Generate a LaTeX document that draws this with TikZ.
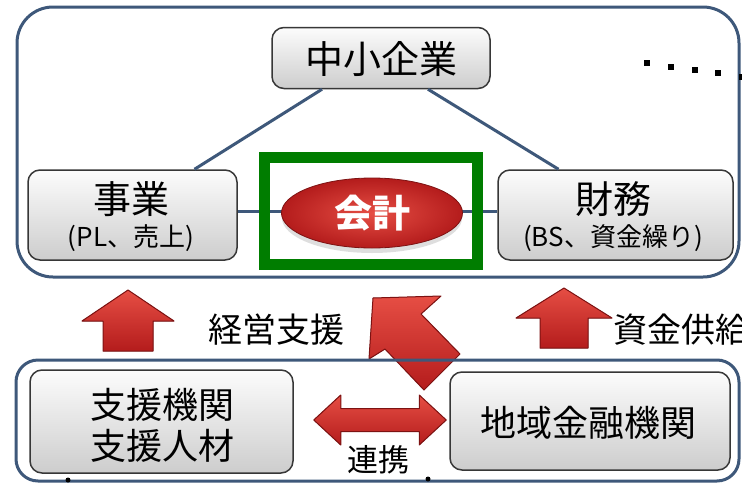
\documentclass[tikz,border=0pt]{standalone}
\usepackage{fontspec}
\setmainfont{Noto Sans CJK JP}
\usetikzlibrary{calc,shapes.geometric}
\definecolor{frameblue}{RGB}{62,88,122}
\definecolor{boxedge}{RGB}{55,55,55}
\definecolor{boxtop}{RGB}{252,252,252}
\definecolor{boxbot}{RGB}{205,205,205}
\definecolor{kgreen}{RGB}{0,125,0}
\definecolor{redlight}{RGB}{230,78,68}
\definecolor{reddark}{RGB}{180,28,28}
\definecolor{rededge}{RGB}{125,18,18}
\newcommand\fsA{\fontsize{38}{42}\selectfont}
\newcommand\fsB{\fontsize{26}{30}\selectfont}
\newcommand\fsC{\fontsize{36}{40}\selectfont}
\newcommand\fsD{\fontsize{34}{38}\selectfont}
\newcommand\fsE{\fontsize{31}{35}\selectfont}
\tikzset{
  frame/.style={draw=frameblue, line width=3pt, rounded corners=#1},
  graybox/.style={draw=boxedge, line width=1.5pt, rounded corners=12pt, top color=boxtop, bottom color=boxbot, inner sep=0pt},
  conn/.style={draw=frameblue, line width=3pt},
  blockarrow/.style={draw=rededge, line width=1pt, top color=redlight, bottom color=reddark, line join=round},
  txt/.style={inner sep=0pt, text=black},
  dotsq/.style={fill=black},
}
\begin{document}
\begin{tikzpicture}[x=1pt,y=-1pt]
\useasboundingbox (0,0) rectangle (742,485);
\fill[white] (0,0) rectangle (742,485);
% top frame
\draw[frame=36pt] (17,7) rectangle (739,277);
% dots
\foreach \px/\py in {647/63,671/67,695/70,718/73,742/77}
  \fill[dotsq] (\px-3.2,\py-3.2) rectangle (\px+3.2,\py+3.2);
% boxes
\node[graybox, minimum width=218pt, minimum height=61pt] (chusho) at (381,58) {};
\node[txt] (chushoT) at (381,59) {\fsA 中小企業};
\node[graybox, minimum width=209pt, minimum height=90pt] (jigyo) at (132.5,215) {};
\node[txt] (jigyoT1) at (131,199) {\fsA 事業};
\node[txt] (jigyoT2) at (131,238) {\fsB (PL、売上)};
\node[graybox, minimum width=235pt, minimum height=90pt] (zaimu) at (615.5,215) {};
\node[txt] (zaimuT1) at (613,199) {\fsA 財務};
\node[txt] (zaimuT2) at (613,238) {\fsB (BS、資金繰り)};
% connectors
\draw[conn] ($(chusho.south)+(-59,0)$) -- ($(jigyo.north)+(62,0)$);
\draw[conn] ($(chusho.south)+(47,0)$) -- ($(zaimu.north)+(-57,0)$);
\draw[conn] ($(jigyo.east)+(0,-4)$) -- ($(zaimu.west)+(0,-4)$);
% green frame and ellipse
\node[draw=kgreen, line width=11pt, minimum width=213pt, minimum height=107pt, inner sep=0pt] (kframe) at (370.5,211) {};
\fill[black!25, opacity=0.5] (372,218) ellipse (90pt and 35pt);
\node[ellipse, draw=rededge, line width=0.8pt, inner color=redlight, outer color=reddark, minimum width=181pt, minimum height=70pt, inner sep=0pt, text=white] (kaikei) at (372,213) {\fsA\bfseries 会計};
% up arrows
\filldraw[blockarrow] (128,290) -- (174,321) -- (153,321) -- (153,351) -- (103,351) -- (103,321) -- (82,321) -- cycle;
\filldraw[blockarrow] (564,288) -- (612,318) -- (588,318) -- (588,348) -- (540,348) -- (540,318) -- (516,318) -- cycle;
% big diagonal arrow
\filldraw[blockarrow] (373,298) -- (441,296) -- (421,314) -- (460,354) -- (424,390) -- (385,349) -- (369,359) -- cycle;
\node[txt] (keiei) at (276,330) {\fsD 経営支援};
\node[txt, anchor=west] (shikin) at (613,330) {\fsD 資金供給};
% lower frame
\draw[frame=22pt] (16,360) rectangle (739,481);
\node[graybox, minimum width=263pt, minimum height=103pt] (shien) at (161.5,421.5) {};
\node[txt] (shienT1) at (162,405) {\fsC 支援機関};
\node[txt] (shienT2) at (162,446) {\fsC 支援人材};
\node[graybox, minimum width=280pt, minimum height=98pt] (chiiki) at (590,421) {};
\node[txt] (chiikiT) at (588,423) {\fsC 地域金融機関};
% double arrow
\coordinate (dl) at ($(shien.east)+(20,-1.5)$);
\coordinate (dr) at ($(chiiki.west)+(-3,-1)$);
\filldraw[blockarrow] (dl) -- ++(27,-25) -- ++(0,13.5) -- ($(dr)+(-27,-11.5)$) -- ++(0,-13.5) -- (dr) -- ++(-27,25) -- ++(0,-13.5) -- ($(dl)+(27,11.5)$) -- ++(0,13.5) -- cycle;
\node[txt] (renkei) at (378,460) {\fsE 連携};
% small marks at bottom
\fill (68,480) circle (2.5pt);
\fill (428,479) circle (2.5pt);
\end{tikzpicture}
\end{document}
